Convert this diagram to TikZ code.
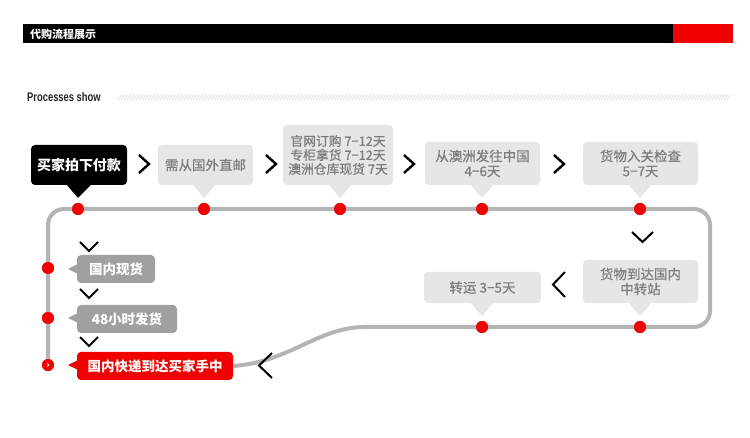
\documentclass[tikz,border=0pt]{standalone}
\usepackage{fontspec}
\newfontfamily\cjk{Noto Sans CJK SC}
\newfontfamily\cjkm[FakeBold=0.5]{Noto Sans CJK SC}
\newfontfamily\latinnarrow[FakeStretch=0.75]{Liberation Sans}
\definecolor{trackgray}{RGB}{180,180,180}
\definecolor{boxgray}{RGB}{230,230,230}
\definecolor{txtgray}{RGB}{125,125,125}
\definecolor{darkbox}{RGB}{160,160,160}
\definecolor{hotred}{RGB}{240,0,0}
\definecolor{hatchgray}{RGB}{215,215,215}
\tikzset{
  track/.style={draw=trackgray, line width=4pt},
  dotnode/.style={circle, fill=hotred, inner sep=0pt, minimum size=12pt},
  chev/.style={draw=black, line width=2.4pt, miter limit=10},
  gbox/.style={fill=boxgray, rounded corners=4pt, text=txtgray, inner sep=0pt,
    font=\cjkm\fontsize{13.5}{15}\selectfont, align=center},
  dbox/.style={fill=darkbox, rounded corners=4pt, text=white, inner sep=0pt,
    font=\cjk\bfseries\fontsize{13.5}{15}\selectfont, align=center},
}
\begin{document}
\begin{tikzpicture}[x=1pt,y=-1pt]
\path[use as bounding box, fill=white] (0,0) rectangle (750,438);
% header
\fill[black] (23,24) rectangle (673,43.5);
\fill[hotred] (673,24) rectangle (733,43.5);
\node[anchor=west, text=white, inner sep=0pt, font=\cjk\bfseries\fontsize{11}{12}\selectfont] (title) at (30,34) {代购流程展示};
\node[anchor=west, text=black!85, inner sep=0pt, font=\latinnarrow\bfseries\fontsize{12.5}{13}\selectfont] (sub) at (27,97) {Processes show};
\foreach \x in {118,121,...,729}{\draw[hatchgray, line width=0.6pt] (\x,100) -- (\x+4,94.5);}
% dots
\node[dotnode] (t1) at (78,209) {};
\node[dotnode] (t2) at (204,209) {};
\node[dotnode] (t3) at (340,209) {};
\node[dotnode] (t4) at (482,209) {};
\node[dotnode] (t5) at (640,209) {};
\node[dotnode] (l1) at (48,268) {};
\node[dotnode] (l2) at (48,318) {};
\node[dotnode] (l3) at (48,365) {};
\node[dotnode] (b1) at (482,327) {};
\node[dotnode] (b2) at (640,327) {};
\coordinate (cTL) at (48,209);
\coordinate (cTR) at (710,209);
\coordinate (cBR) at (710,327);
\coordinate (cBL) at (365,327);
% boxes
\node[fill=black, rounded corners=4pt, text=white, inner sep=0pt, minimum width=96pt, minimum height=40pt,
  font=\cjk\bfseries\fontsize{14}{15}\selectfont] (s1) at (79,165) {买家拍下付款};
\node[gbox, minimum width=95pt, minimum height=40pt] (s2) at (205.5,165) {需从国外直邮};
\node[gbox, minimum width=110pt, minimum height=60pt, font=\cjkm\fontsize{12.8}{14}\selectfont] (s3) at (338,155) {官网订购 7−12天\\专柜拿货 7−12天\\澳洲仓库现货 7天};
\node[gbox, minimum width=115pt, minimum height=43pt] (s4) at (482.5,163.5) {从澳洲发往中国\\4−6天};
\node[gbox, minimum width=115pt, minimum height=43pt] (s5) at (640.5,163.5) {货物入关检查\\5−7天};
\node[gbox, minimum width=115pt, minimum height=43pt] (s6) at (640.5,281.5) {货物到达国内\\中转站};
\node[gbox, minimum width=117pt, minimum height=31pt] (s7) at (482.5,287.5) {转运 3−5天};
\node[dbox, minimum width=78pt, minimum height=28pt] (s8) at (116,269) {国内现货};
\node[dbox, minimum width=100pt, minimum height=28pt] (s9) at (127,319) {48小时发货};
\node[dbox, fill=hotred, minimum width=156pt, minimum height=28pt] (s10) at (155,366) {国内快递到达买家手中};
% pointers
\fill[black] (66,184) -- (t1.center |- 0,198) -- (92,184) -- cycle;
\fill[boxgray] (192,184) -- (t2.center |- 0,198) -- (216,184) -- cycle;
\fill[boxgray] (328,184) -- (t3.center |- 0,198) -- (352,184) -- cycle;
\fill[boxgray] (470,184) -- (t4.center |- 0,198) -- (494,184) -- cycle;
\fill[boxgray] (628,184) -- (t5.center |- 0,198) -- (652,184) -- cycle;
\fill[boxgray] (628,302) -- (b2.center |- 0,316) -- (652,302) -- cycle;
\fill[boxgray] (470,302) -- (b1.center |- 0,316) -- (494,302) -- cycle;
\fill[darkbox] (78,264) -- (68,269) -- (78,274) -- cycle;
\fill[darkbox] (78,313) -- (68,318) -- (78,323) -- cycle;
\fill[hotred] (78,360) -- (68,365) -- (78,370) -- cycle;
% track
\draw[track, rounded corners=16pt] (l3.center) -- (cTL) -- (cTR) -- (cBR) -- (cBL);
\draw[track] (cBL) .. controls (318,327) and (290,362) .. (s10.east);
% dots on top of the track
\foreach \n in {t1,t2,t3,t4,t5,l1,l2,l3,b1,b2}{\fill[hotred] (\n.center) circle (6pt);}
\draw[white, line width=0.7pt] (47,363.3) -- (49,365) -- (47,366.7);
% chevrons
\draw[chev] (139,155) -- (149,164) -- (139,173);
\draw[chev] (266,155) -- (276,164) -- (266,173);
\draw[chev] (404,155) -- (414,164) -- (404,173);
\draw[chev] (554,155) -- (564,164) -- (554,173);
\draw[chev, line width=2pt] (632,232) -- (642.5,242) -- (653,232);
\draw[chev, line width=2pt] (565,272) -- (553,284.5) -- (565,297);
\draw[chev, line width=2pt] (272,353) -- (259,365.5) -- (272,378);
\draw[chev, line width=2pt] (80,242) -- (89,251) -- (98,242);
\draw[chev, line width=2pt] (80,289) -- (89,298) -- (98,289);
\draw[chev, line width=2pt] (80,337) -- (89,346) -- (98,337);
\end{tikzpicture}
\end{document}
